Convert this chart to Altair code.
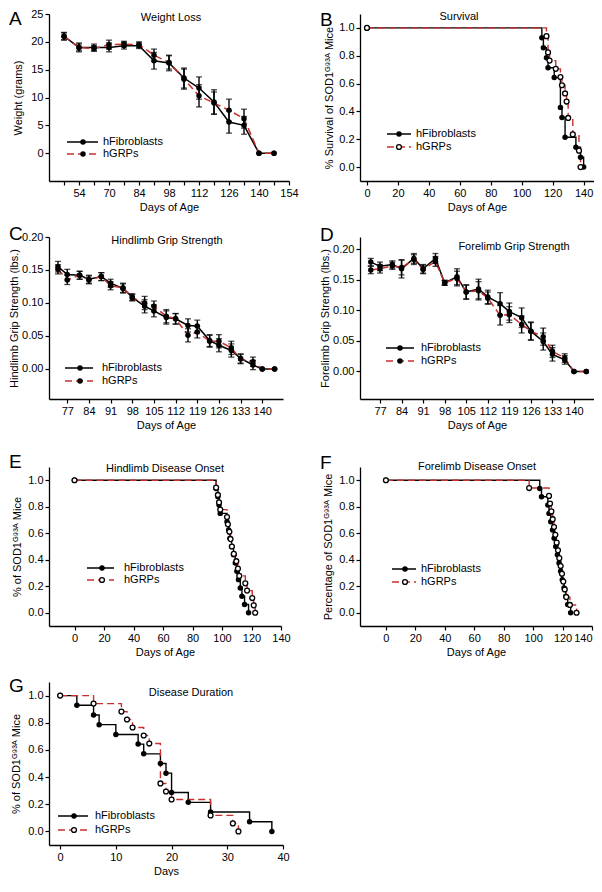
import altair as alt
import pandas as pd

FONT = "Liberation Sans"
RED = "#c8302e"
BLACK = "#000000"
SOD = "SOD1ᴳ⁹³ᴬ"
SERIES = ["hFibroblasts", "hGRPs"]

# ---------------- A: Weight loss ----------------
A_DAYS = [49, 56, 63, 70, 77, 84, 91, 98, 105, 112, 119, 126, 133, 140, 147]
A_FIB = [21.0, 19.0, 19.0, 19.0, 19.3, 19.3, 16.6, 16.2, 13.5, 11.7, 9.2, 5.6, 5.0, 0.0, 0.0]
A_FIB_ERR = [0.7, 0.8, 0.6, 0.8, 0.6, 0.5, 1.5, 1.4, 1.8, 2.0, 2.2, 2.0, 1.6, 0.0, 0.0]
A_GRP = [21.0, 19.0, 18.8, 19.5, 19.6, 19.5, 17.6, 16.3, 13.3, 10.3, 9.0, 7.7, 6.2, 0.0, 0.0]
A_GRP_ERR = [0.6, 0.6, 0.5, 0.8, 0.5, 0.5, 1.1, 1.2, 1.8, 2.0, 2.0, 2.0, 1.7, 0.0, 0.0]
A_XTICKS = [49, 56, 63, 70, 77, 84, 91, 98, 105, 112, 119, 126, 133, 140, 147, 154]
A_XLABELS = {56: "54", 70: "70", 84: "84", 98: "98", 112: "112", 126: "126", 140: "140", 154: "154"}
A_YTICKS = [0, 5, 10, 15, 20, 25]

# ---------------- B: Survival ----------------
B_FIB_DAYS = [0, 113, 114, 116, 117, 121, 125, 126, 128, 135, 138, 140]
B_FIB_SURV = [1.0, 0.929, 0.857, 0.786, 0.714, 0.643, 0.429, 0.357, 0.214, 0.143, 0.071, 0.0]
B_GRP_DAYS = [0, 116, 117, 118, 122, 125, 126, 128, 129, 130, 133, 137, 138]
B_GRP_SURV = [1.0, 0.941, 0.824, 0.765, 0.706, 0.647, 0.588, 0.529, 0.471, 0.353, 0.235, 0.118, 0.0]

# ---------------- C: Hindlimb grip strength ----------------
GRIP_DAYS = [74, 77, 81, 84, 88, 91, 95, 98, 102, 105, 109, 112, 116, 119, 123, 126, 130, 133, 137, 140, 144]
C_FIB = [0.155, 0.143, 0.142, 0.136, 0.140, 0.130, 0.122, 0.109, 0.095, 0.088, 0.078, 0.076, 0.066, 0.065,
         0.043, 0.036, 0.028, 0.016, 0.006, 0.0, 0.0]
C_FIB_ERR = [0.008, 0.008, 0.006, 0.006, 0.006, 0.006, 0.007, 0.005, 0.010, 0.009, 0.010, 0.008, 0.010, 0.009,
             0.009, 0.010, 0.010, 0.007, 0.007, 0.0, 0.0]
C_GRP = [0.151, 0.135, 0.142, 0.135, 0.140, 0.126, 0.123, 0.108, 0.100, 0.095, 0.080, 0.076, 0.051, 0.056,
         0.042, 0.042, 0.032, 0.015, 0.011, 0.0, 0.0]
C_GRP_ERR = [0.007, 0.007, 0.006, 0.006, 0.006, 0.006, 0.007, 0.005, 0.010, 0.008, 0.010, 0.008, 0.010, 0.009,
             0.009, 0.010, 0.010, 0.007, 0.007, 0.0, 0.0]
GRIP_XTICKS = [77, 84, 91, 98, 105, 112, 119, 126, 133, 140]
GRIP_YTICKS = [0.0, 0.05, 0.10, 0.15, 0.20]

# ---------------- D: Forelimb grip strength ----------------
D_FIB = [0.179, 0.172, 0.175, 0.168, 0.185, 0.168, 0.185, 0.145, 0.155, 0.130, 0.135, 0.122, 0.111, 0.098,
         0.088, 0.066, 0.049, 0.028, 0.019, 0.0, 0.0]
D_FIB_ERR = [0.006, 0.007, 0.006, 0.015, 0.008, 0.007, 0.008, 0.004, 0.013, 0.012, 0.016, 0.011, 0.018, 0.014,
             0.016, 0.015, 0.014, 0.011, 0.007, 0.0, 0.0]
D_GRP = [0.166, 0.168, 0.173, 0.170, 0.183, 0.167, 0.180, 0.145, 0.152, 0.130, 0.132, 0.120, 0.092, 0.093,
         0.077, 0.066, 0.057, 0.033, 0.022, 0.0, 0.0]
D_GRP_ERR = [0.006, 0.007, 0.006, 0.012, 0.008, 0.007, 0.008, 0.004, 0.012, 0.011, 0.015, 0.010, 0.016, 0.013,
             0.014, 0.014, 0.014, 0.010, 0.007, 0.0, 0.0]

# ---------------- E: Hindlimb disease onset ----------------
E_FIB_DAYS = [0, 96, 97.2, 98, 98.8, 103.4, 104.5, 105.4, 106.5, 107.8, 109, 110.1, 111.2, 112.4, 113.5, 115.3, 118]
E_FIB_SURV = [1.0, 0.9375, 0.875, 0.8125, 0.75, 0.6875, 0.625, 0.5625, 0.5, 0.4375, 0.375, 0.3125, 0.25,
              0.1875, 0.125, 0.0625, 0.0]
E_GRP_DAYS = [0, 96, 97.2, 98, 98.8, 103.4, 104, 105, 105.8, 106.7, 108, 109.7, 110.8, 111.7, 115.8, 117,
              120.5, 121.5, 122.5]
E_GRP_SURV = [1.0, 0.944, 0.889, 0.833, 0.778, 0.722, 0.667, 0.611, 0.556, 0.5, 0.444, 0.389, 0.333, 0.278,
              0.222, 0.167, 0.111, 0.056, 0.0]

# ---------------- F: Forelimb disease onset ----------------
F_FIB_DAYS = [0, 104.5, 105.7, 110.0, 110.8, 112.0, 113.2, 114.3, 115.4, 116.5, 117.6, 118.7, 119.8, 121.0,
              122.2, 123.5, 125.5]
F_FIB_SURV = [1.0, 0.9375, 0.875, 0.8125, 0.75, 0.6875, 0.625, 0.5625, 0.5, 0.4375, 0.375, 0.3125, 0.25,
              0.1875, 0.125, 0.0625, 0.0]
F_GRP_DAYS = [0, 97.3, 110.8, 111.5, 112.4, 113.3, 114.2, 115.1, 116.0, 116.9, 117.8, 118.7, 119.6, 120.5,
              121.5, 122.5, 125.0, 129.5]
F_GRP_SURV = [1.0, 0.941, 0.882, 0.824, 0.765, 0.706, 0.647, 0.588, 0.529, 0.471, 0.412, 0.353, 0.294, 0.235,
              0.176, 0.118, 0.059, 0.0]

# ---------------- G: Disease duration ----------------
G_FIB_DAYS = [0, 3, 6, 7, 10, 14, 15, 18, 19, 20, 23, 27, 34, 38]
G_FIB_SURV = [1.0, 0.929, 0.857, 0.786, 0.714, 0.643, 0.571, 0.5, 0.429, 0.286, 0.214, 0.143, 0.071, 0.0]
G_GRP_DAYS = [0, 6, 11, 12, 13, 15, 16, 18, 19, 20, 27, 31, 32]
G_GRP_SURV = [1.0, 0.941, 0.882, 0.824, 0.765, 0.706, 0.647, 0.353, 0.294, 0.235, 0.118, 0.059, 0.0]

KM_YTICKS = [0.0, 0.2, 0.4, 0.6, 0.8, 1.0]
AGE_XTICKS = [0, 20, 40, 60, 80, 100, 120, 140]
DUR_XTICKS = [0, 10, 20, 30, 40]


def text_layer(s, x, y, size=11, align="left", baseline="middle"):
    return alt.Chart(pd.DataFrame({"t": [s]})).mark_text(
        font=FONT, fontSize=size, align=align, baseline=baseline, color=BLACK
    ).encode(x=alt.value(x), y=alt.value(y), text="t:N")


def legend_layers(x1, x2, xp, xt, y1, y2, open_marker):
    one = pd.DataFrame({"k": [0]})
    layers = [
        alt.Chart(one).mark_rule(color=BLACK, strokeWidth=1.5).encode(
            x=alt.value(x1), x2=alt.value(x2), y=alt.value(y1)),
        alt.Chart(one).mark_rule(color=RED, strokeWidth=1.5, strokeDash=[7, 4]).encode(
            x=alt.value(x1), x2=alt.value(x2), y=alt.value(y2)),
        alt.Chart(one).mark_point(shape="circle", filled=True, color=BLACK, size=30, opacity=1).encode(
            x=alt.value(xp), y=alt.value(y1)),
    ]
    if open_marker:
        layers.append(alt.Chart(one).mark_point(shape="circle", filled=True, fill="white", stroke=BLACK,
                                                strokeWidth=1.3, size=24, opacity=1).encode(
            x=alt.value(xp), y=alt.value(y2)))
    else:
        layers.append(alt.Chart(one).mark_point(shape="circle", filled=True, color=BLACK, size=30,
                                                opacity=1).encode(x=alt.value(xp), y=alt.value(y2)))
    layers.append(text_layer(SERIES[0], xt, y1))
    layers.append(text_layer(SERIES[1], xt, y2))
    return layers


def x_enc(xdom, xvals, title, label_expr=None, flush=False):
    kw = dict(values=xvals, title=title)
    if label_expr:
        kw["labelExpr"] = label_expr
    if flush:
        kw["labelFlush"] = True
    return alt.X("day:Q", scale=alt.Scale(domain=xdom, nice=False, zero=False), axis=alt.Axis(**kw))


def y_enc(field, ydom, yvals, fmt, title, title_x, height):
    return alt.Y(f"{field}:Q", scale=alt.Scale(domain=ydom, nice=False, zero=False),
                 axis=alt.Axis(values=yvals, format=fmt, title=title, titleX=title_x,
                               titleY=height / 2, titleBaseline="middle", titleAngle=-90))


def mean_panel(days, fib, fib_err, grp, grp_err, *, width, height, xdom, ydom, xvals, yvals, yfmt,
               ytitle, ytitle_x, title, title_xy, letter, letter_y, legend, label_expr=None):
    fdf = pd.DataFrame({"day": days, "val": fib, "err": fib_err})
    gdf = pd.DataFrame({"day": days, "val": grp, "err": grp_err})
    both = pd.concat([fdf, gdf], ignore_index=True)
    both["lo"] = both["val"] - both["err"]
    both["hi"] = both["val"] + both["err"]
    bars = both[both["err"] > 0]
    x = x_enc(xdom, xvals, "Days of Age", label_expr)

    def Y(f):
        return y_enc(f, ydom, yvals, yfmt, ytitle, ytitle_x, height)

    layers = [
        alt.Chart(fdf).mark_line(color=BLACK, strokeWidth=1.5).encode(x, Y("val")),
        alt.Chart(gdf).mark_line(color=RED, strokeWidth=1.5, strokeDash=[7, 4]).encode(x, Y("val")),
        alt.Chart(bars).mark_rule(color=BLACK, strokeWidth=1.4).encode(x, Y("lo"), y2="hi:Q"),
        alt.Chart(bars).mark_tick(orient="horizontal", size=6, thickness=1.3, color=BLACK).encode(x, Y("lo")),
        alt.Chart(bars).mark_tick(orient="horizontal", size=6, thickness=1.3, color=BLACK).encode(x, Y("hi")),
        alt.Chart(both).mark_point(shape="circle", filled=True, color=BLACK, size=30, opacity=1).encode(x, Y("val")),
        text_layer(title, title_xy[0], title_xy[1], size=11, align="center", baseline="top"),
        text_layer(letter, -40, letter_y, size=19, align="left", baseline="alphabetic"),
    ] + legend_layers(*legend, open_marker=False)
    return alt.layer(*layers).properties(width=width, height=height)


def km_panel(fd, fs, gd, gs, *, width, height, xdom, xvals, xtitle, ytitle, ytitle_x, title, title_xy,
             letter, letter_y, legend, flush=False):
    fdf = pd.DataFrame({"day": fd, "surv": fs})
    gdf = pd.DataFrame({"day": gd, "surv": gs})
    x = x_enc(xdom, xvals, xtitle, flush=flush)
    y = y_enc("surv", [-0.1, 1.1], KM_YTICKS, ".1f", ytitle, ytitle_x, height)
    layers = [
        alt.Chart(fdf).mark_line(interpolate="step-after", color=BLACK, strokeWidth=1.4).encode(x, y),
        alt.Chart(gdf).mark_line(interpolate="step-after", color=RED, strokeWidth=1.4,
                                 strokeDash=[7, 4]).encode(x, y),
        alt.Chart(fdf).mark_point(shape="circle", filled=True, color=BLACK, size=30, opacity=1).encode(x, y),
        alt.Chart(gdf).mark_point(shape="circle", filled=True, fill="white", stroke=BLACK, strokeWidth=1.3,
                                  size=24, opacity=1).encode(x, y),
        text_layer(title, title_xy[0], title_xy[1], size=11, align="center", baseline="top"),
        text_layer(letter, -40, letter_y, size=19, align="left", baseline="alphabetic"),
    ] + legend_layers(*legend, open_marker=True)
    return alt.layer(*layers).properties(width=width, height=height)


a_expr = " : ".join(f"datum.value == {k} ? '{v}'" for k, v in A_XLABELS.items()) + " : ''"

A = mean_panel(A_DAYS, A_FIB, A_FIB_ERR, A_GRP, A_GRP_ERR, width=240, height=167, xdom=[42, 154],
               ydom=[-5, 25], xvals=A_XTICKS, yvals=A_YTICKS, yfmt="d", ytitle="Weight (grams)",
               ytitle_x=-31, title="Weight Loss", title_xy=(122, -2), letter="A", letter_y=11,
               legend=(18, 49, 34, 54, 128, 140), label_expr=a_expr)

B = km_panel(B_FIB_DAYS, B_FIB_SURV, B_GRP_DAYS, B_GRP_SURV, width=234, height=167, xdom=[-4.5, 146.7],
             xvals=AGE_XTICKS, xtitle="Days of Age", ytitle=f"% Survival of {SOD} Mice", ytitle_x=-31,
             title="Survival", title_xy=(99, -3), letter="B", letter_y=12, legend=(27, 51, 39, 56, 120, 133))

C = mean_panel(GRIP_DAYS, C_FIB, C_FIB_ERR, C_GRP, C_GRP_ERR, width=234, height=162, xdom=[71.1, 146.7],
               ydom=[-0.0455, 0.20], xvals=GRIP_XTICKS, yvals=GRIP_YTICKS, yfmt=".2f",
               ytitle="Hindlimb Grip Strength (lbs.)", ytitle_x=-35, title="Hindlimb Grip Strength",
               title_xy=(118, -2), letter="C", letter_y=3, legend=(16, 44, 31, 53, 131, 144))

D = mean_panel(GRIP_DAYS, D_FIB, D_FIB_ERR, D_GRP, D_GRP_ERR, width=234, height=162, xdom=[70.5, 146.5],
               ydom=[-0.045, 0.22], xvals=GRIP_XTICKS, yvals=GRIP_YTICKS, yfmt=".2f",
               ytitle="Forelimb Grip Strength (lbs.)", ytitle_x=-35, title="Forelimb Grip Strength",
               title_xy=(154, 4), letter="D", letter_y=4, legend=(26, 54, 40, 61, 111, 124))

E = km_panel(E_FIB_DAYS, E_FIB_SURV, E_GRP_DAYS, E_GRP_SURV, width=232, height=159, xdom=[-17.3, 140],
             xvals=AGE_XTICKS, xtitle="Days of Age", ytitle=f"% of {SOD} Mice", ytitle_x=-32,
             title="Hindlimb Disease Onset", title_xy=(116, -4), letter="E", letter_y=1,
             legend=(38, 65, 53, 75, 101, 113))

F = km_panel(F_FIB_DAYS, F_FIB_SURV, F_GRP_DAYS, F_GRP_SURV, width=232, height=159, xdom=[-17.6, 140],
             xvals=AGE_XTICKS, xtitle="Days of Age", ytitle=f"Percentage of {SOD} Mice", ytitle_x=-32,
             title="Forelimb Disease Onset", title_xy=(117, -6), letter="F", letter_y=2,
             legend=(32, 56, 45, 61, 102, 115), flush=True)

G = km_panel(G_FIB_DAYS, G_FIB_SURV, G_GRP_DAYS, G_GRP_SURV, width=234, height=163, xdom=[-2, 40],
             xvals=DUR_XTICKS, xtitle="Days", ytitle=f"% of {SOD} Mice", ytitle_x=-33,
             title="Disease Duration", title_xy=(142, 5), letter="G", letter_y=10,
             legend=(9, 39, 25, 46, 134, 148))


def spacer(w, h):
    return alt.Chart(pd.DataFrame({"k": [0]})).mark_point(opacity=0).encode(
        x=alt.value(0), y=alt.value(0)).properties(width=w, height=h)


chart = alt.concat(
    A, B,
    spacer(240, 56), spacer(234, 56),
    C, D,
    spacer(240, 68), spacer(234, 68),
    E, F,
    spacer(240, 56), spacer(234, 56),
    G,
    columns=2,
    spacing=alt.RowColnumber(row=0, column=71),
    bounds="flush",
).properties(
    padding={"left": 0, "top": 0, "right": 0, "bottom": 0}
).configure_view(stroke=None).configure_axis(
    grid=False, domainColor=BLACK, domainWidth=1.3, tickColor=BLACK, tickWidth=1.2, tickSize=4,
    labelFont=FONT, labelFontSize=11, labelColor=BLACK, labelPadding=2, labelFlush=False,
    labelOverlap=False, titleFont=FONT, titleFontSize=11, titleFontWeight="normal", titleColor=BLACK,
    titlePadding=3,
).configure_text(font=FONT)

chart.save("out.html", embed_options={"renderer": "svg", "actions": False})
